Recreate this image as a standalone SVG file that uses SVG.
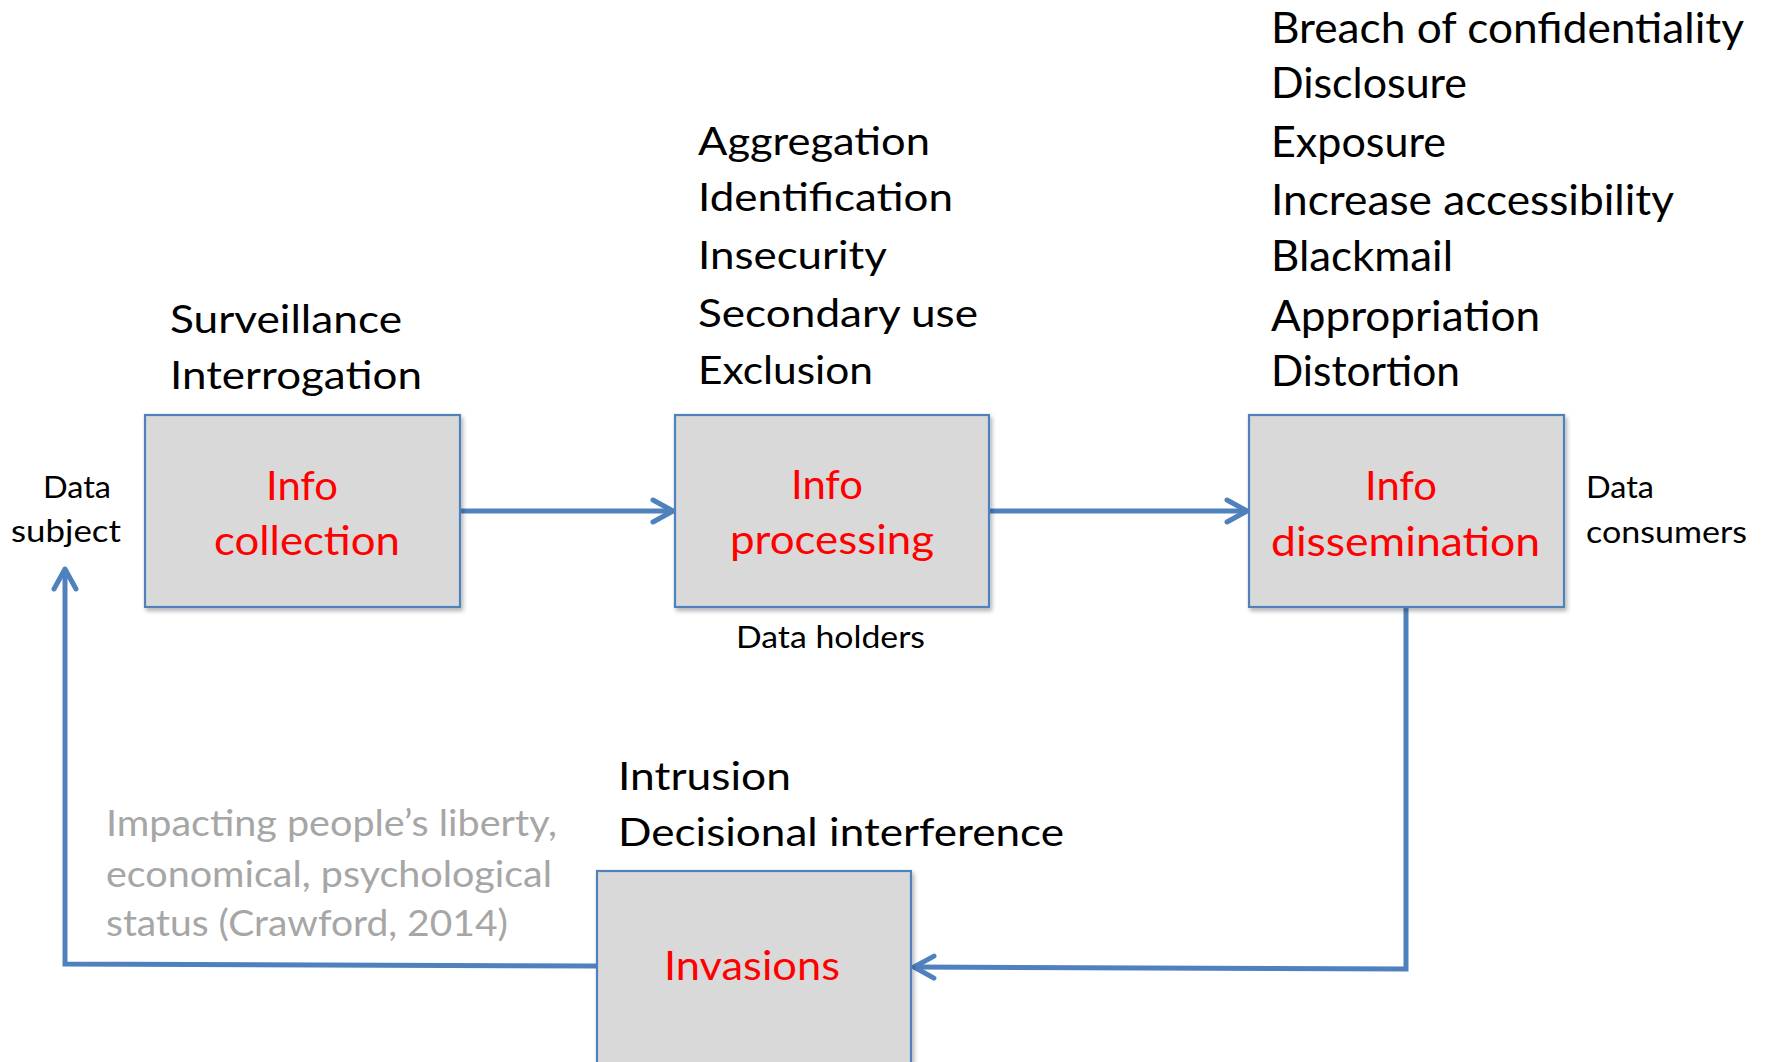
<svg xmlns="http://www.w3.org/2000/svg" width="1769" height="1062" viewBox="0 0 1769 1062">
<style>
text{font-family:Lato,"Open Sans","Liberation Sans",sans-serif}
.box{fill:#d9d9d9;stroke:#4f81bd;stroke-width:2.2;filter:url(#sh)}
.red{fill:#ff0000;font-size:41px}
.lbl{fill:#000;font-size:39px}
.big{fill:#000;font-size:42px}
.small{fill:#000;font-size:30px}
.grey{fill:#a6a6a6;font-size:36px}
.conn{fill:none;stroke:#4f81bd;stroke-width:5;stroke-linejoin:miter}
</style>
<defs>
<filter id="sh" x="-10%" y="-10%" width="125%" height="125%">
<feDropShadow dx="2" dy="3" stdDeviation="2" flood-color="#000" flood-opacity="0.3"/>
</filter>
<marker id="ah" viewBox="0 0 26 28" refX="23" refY="14" markerWidth="26" markerHeight="28" markerUnits="userSpaceOnUse" orient="auto">
<path d="M3,3 L23,14 L3,25" fill="none" stroke="#4f81bd" stroke-width="5" stroke-linecap="round" stroke-linejoin="round"/>
</marker>
</defs>
<rect width="1769" height="1062" fill="#fff"/>

<g id="connectors">
<path class="conn" d="M460,511 L673,511" marker-end="url(#ah)"/>
<path class="conn" d="M989,511 L1247,511" marker-end="url(#ah)"/>
<path class="conn" d="M1406,607 L1406,969 L914,967" marker-end="url(#ah)"/>
<path class="conn" d="M597,966 L65,964 L65,569" marker-end="url(#ah)"/>
</g>

<g id="node-collection">
<rect class="box" x="145" y="415" width="315" height="192"/>
<text class="red" x="266" y="500" textLength="72" lengthAdjust="spacingAndGlyphs">Info</text>
<text class="red" x="214" y="555" textLength="186" lengthAdjust="spacingAndGlyphs">collection</text>
<text class="lbl" x="170" y="333" textLength="232" lengthAdjust="spacingAndGlyphs">Surveillance</text>
<text class="lbl" x="170" y="389" textLength="252" lengthAdjust="spacingAndGlyphs">Interrogation</text>
</g>

<g id="node-processing">
<rect class="box" x="675" y="415" width="314" height="192"/>
<text class="red" x="791" y="499" textLength="72" lengthAdjust="spacingAndGlyphs">Info</text>
<text class="red" x="730" y="554" textLength="204" lengthAdjust="spacingAndGlyphs">processing</text>
<text class="lbl" x="698" y="155" textLength="232" lengthAdjust="spacingAndGlyphs">Aggregation</text>
<text class="lbl" x="698" y="211" textLength="255" lengthAdjust="spacingAndGlyphs">Identification</text>
<text class="lbl" x="698" y="269" textLength="189" lengthAdjust="spacingAndGlyphs">Insecurity</text>
<text class="lbl" x="698" y="327" textLength="280" lengthAdjust="spacingAndGlyphs">Secondary use</text>
<text class="lbl" x="698" y="384" textLength="175" lengthAdjust="spacingAndGlyphs">Exclusion</text>
<text class="small" x="736" y="648" textLength="189" lengthAdjust="spacingAndGlyphs">Data holders</text>
</g>

<g id="node-dissemination">
<rect class="box" x="1249" y="415" width="315" height="192"/>
<text class="red" x="1365" y="500" textLength="72" lengthAdjust="spacingAndGlyphs">Info</text>
<text class="red" x="1271" y="556" textLength="269" lengthAdjust="spacingAndGlyphs">dissemination</text>
<text class="big" x="1271" y="43" textLength="473" lengthAdjust="spacingAndGlyphs">Breach of confidentiality</text>
<text class="big" x="1271" y="98" textLength="196" lengthAdjust="spacingAndGlyphs">Disclosure</text>
<text class="big" x="1271" y="157" textLength="175" lengthAdjust="spacingAndGlyphs">Exposure</text>
<text class="big" x="1271" y="215" textLength="403" lengthAdjust="spacingAndGlyphs">Increase accessibility</text>
<text class="big" x="1271" y="271" textLength="182" lengthAdjust="spacingAndGlyphs">Blackmail</text>
<text class="big" x="1271" y="331" textLength="269" lengthAdjust="spacingAndGlyphs">Appropriation</text>
<text class="big" x="1271" y="386" textLength="189" lengthAdjust="spacingAndGlyphs">Distortion</text>
</g>

<g id="node-invasions">
<rect class="box" x="597" y="871" width="314" height="210"/>
<text class="red" x="664" y="980" textLength="176" lengthAdjust="spacingAndGlyphs">Invasions</text>
<text class="lbl" x="618" y="790" textLength="173" lengthAdjust="spacingAndGlyphs">Intrusion</text>
<text class="lbl" x="618" y="846" textLength="446" lengthAdjust="spacingAndGlyphs">Decisional interference</text>
</g>

<g id="data-subject">
<text class="small" x="43" y="498" textLength="68" lengthAdjust="spacingAndGlyphs">Data</text>
<text class="small" x="11" y="542" textLength="110" lengthAdjust="spacingAndGlyphs">subject</text>
</g>

<g id="data-consumers">
<text class="small" x="1586" y="498" textLength="68" lengthAdjust="spacingAndGlyphs">Data</text>
<text class="small" x="1586" y="543" textLength="161" lengthAdjust="spacingAndGlyphs">consumers</text>
</g>

<g id="impact-note">
<text class="grey" x="106" y="836" textLength="451" lengthAdjust="spacingAndGlyphs">Impacting people’s liberty,</text>
<text class="grey" x="106" y="887" textLength="446" lengthAdjust="spacingAndGlyphs">economical, psychological</text>
<text class="grey" x="106" y="936" textLength="402" lengthAdjust="spacingAndGlyphs">status (Crawford, 2014)</text>
</g>
</svg>
